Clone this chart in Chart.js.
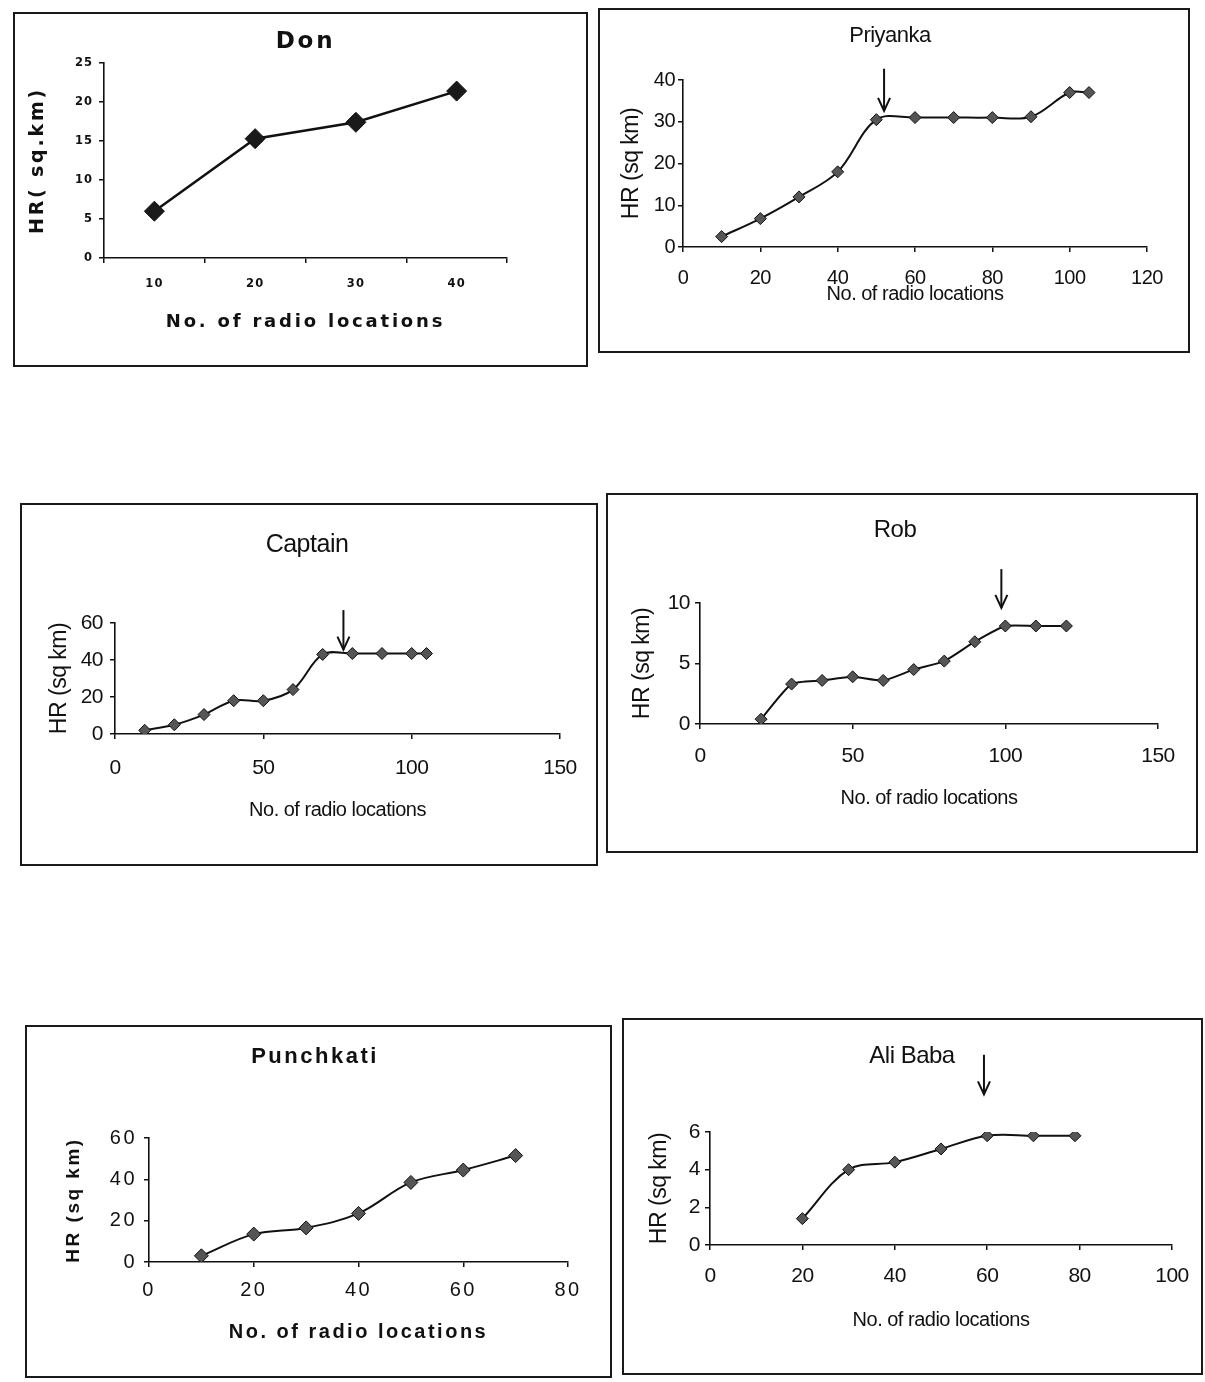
<!DOCTYPE html>
<html><head><meta charset="utf-8">
<script src="https://cdn.jsdelivr.net/npm/chart.js@4/dist/chart.umd.min.js"></script>
<style>
html,body{margin:0;padding:0;background:#fff;width:1205px;height:1382px;overflow:hidden;position:relative}
.box{position:absolute;border:2px solid #1a1a1a;box-sizing:border-box}
canvas{position:absolute}
</style></head><body>
<script>
// ---------- data ----------
const donCategories = ['10','20','30','40'];
const donValues = [6, 15.3, 17.4, 21.4];

const priyankaX = [10,20,30,40,50,60,70,80,90,100,105];
const priyankaY = [2.5,6.8,12,18,30.5,31,31,31,31.2,37,37];
const priyankaArrow = [52, 42.7, 32.6];

const captainX = [10,20,30,40,50,60,70,80,90,100,105];
const captainY = [2,5,10.5,18,18,24,43,43.5,43.5,43.5,43.5];
const captainArrow = [77, 67, 45.6];

const robX = [20,30,40,50,60,70,80,90,100,110,120];
const robY = [0.4,3.3,3.6,3.9,3.6,4.5,5.2,6.8,8.1,8.1,8.1];
const robArrow = [98.7, 12.8, 9.6];

const punchkatiX = [10,20,30,40,50,60,70];
const punchkatiY = [3,13.5,16.5,23.5,38.5,44.5,51.5];

const aliBabaX = [20,30,40,50,60,70,79];
const aliBabaY = [1.4,4.0,4.4,5.1,5.8,5.8,5.8];
const aliBabaArrow = [59.3, 10.1, 8.0];

const xTitle = 'No. of radio locations';

Chart.defaults.color = '#111';

function pairs(xs, ys){ return xs.map((x,i)=>({x:x, y:ys[i]})); }

function panel(o){
  const [bx0,by0,bx1,by1] = o.box;
  const d = document.createElement('div');
  d.className = 'box';
  Object.assign(d.style,{left:bx0+'px',top:by0+'px',width:(bx1-bx0)+'px',height:(by1-by0)+'px'});
  document.body.appendChild(d);

  const [L,T,R,B] = o.area;
  const [tcx,tcy] = o.title;
  let cx0, W, padL, padR, wY;
  const full = o.titleFull !== false;
  if (full){
    const Hw = Math.ceil(Math.max(tcx-bx0+6, bx1-tcx+6, R+40-tcx));
    cx0 = tcx-Hw; W = 2*Hw;
    padR = cx0+W-R; padL = padR;
    wY = L+R-2*tcx;
  } else {
    cx0 = bx0-6; const cx1 = Math.max(bx1+6, R+40);
    W = cx1-cx0;
    wY = o.wY;
    padL = L-wY-cx0; padR = cx1-R;
  }
  const Hh = by1-by0;
  const c = document.createElement('canvas');
  c.width = W; c.height = Hh;
  Object.assign(c.style,{left:cx0+'px',top:by0+'px',width:W+'px',height:Hh+'px'});
  document.body.appendChild(c);

  // letter spacing chosen from the current font size (small tick text vs. titles)
  const ctx2d = c.getContext('2d');
  const origFill = ctx2d.fillText;
  ctx2d.fillText = function(t, x, y, mw){
    const m = /([\d.]+)px/.exec(this.font);
    const size = m ? parseFloat(m[1]) : 12;
    this.letterSpacing = (size < 14 ? o.smallSpacing : o.letterSpacing) + 'px';
    return mw === undefined ? origFill.call(this, t, x, y) : origFill.call(this, t, x, y, mw);
  };

  const ts = o.titleSize, tlh = ts*1.2;
  const pT = tcy-by0-ts*0.6;
  const pB = (T-by0)-pT-tlh;
  const hX = by1-B;
  const tl = 5;
  const xpad = o.xTickY-B-tl-o.tickSize*0.6;
  const ypad = L-o.yTickRight-tl;
  const xTitlePadB = by1-o.xTitleY-o.xTitleSize*0.6;
  const yTitlePadT = o.yTitleX-(L-wY)-o.yTitleSize*0.6;
  const fam = o.family;

  const plugins = [];
  if (o.arrow){
    plugins.push({
      id:'arrow',
      afterDatasetsDraw(ch){
        const ctx = ch.ctx;
        const x = ch.scales.x.getPixelForValue(o.arrow[0]);
        const y1 = ch.scales.y.getPixelForValue(o.arrow[1]);
        const y2 = ch.scales.y.getPixelForValue(o.arrow[2]);
        ctx.save();
        ctx.strokeStyle = '#111'; ctx.lineWidth = 2;
        ctx.beginPath(); ctx.moveTo(x,y1); ctx.lineTo(x,y2); ctx.stroke();
        ctx.beginPath(); ctx.moveTo(x-6,y2-13); ctx.lineTo(x,y2); ctx.lineTo(x+6,y2-13); ctx.stroke();
        ctx.restore();
      }
    });
  }

  const tickFont = {family:fam, size:o.tickSize, weight:o.tickWeight};
  const gridOpt = {display:true, drawOnChartArea:false, drawTicks:true, tickLength:tl, color:'#111', lineWidth:1.5};
  const borderOpt = {display:true, color:'#111', width:1.6};

  let xScale;
  if (o.categories){
    xScale = {type:'category', labels:o.categories, offset:true,
      grid:Object.assign({offset:true},gridOpt), border:borderOpt,
      ticks:{font:tickFont, padding:xpad, color:'#111', maxRotation:0}};
  } else {
    xScale = {type:'linear', min:0, max:o.xMax,
      grid:gridOpt, border:borderOpt,
      ticks:{stepSize:o.xStep, font:tickFont, padding:xpad, color:'#111', maxRotation:0}};
  }
  xScale.position = 'bottom';
  xScale.title = {display:true, text:xTitle, color:'#111',
    font:{family:fam, size:o.xTitleSize, weight:o.xTitleWeight},
    padding:{top:0,bottom:xTitlePadB}};
  xScale.afterFit = s => { s.height = hX; s.paddingLeft = 0; s.paddingRight = 0; };

  const yScale = {type:'linear', position:'left', min:0, max:o.yMax,
    grid:gridOpt, border:borderOpt,
    ticks:{stepSize:o.yStep, font:tickFont, padding:ypad, color:'#111'},
    title:{display:true, text:o.yTitle, color:'#111',
      font:{family:fam, size:o.yTitleSize, weight:o.yTitleWeight},
      padding:{top:yTitlePadT,bottom:0}},
    afterFit: s => { s.width = wY; s.paddingTop = 0; s.paddingBottom = 0; }
  };

  new Chart(c, {
    type:'line',
    data:{
      labels: o.categories || undefined,
      datasets:[{
        data: o.data,
        borderColor:'#111', borderWidth:o.lineWidth,
        tension:o.tension,
        pointStyle:'rectRot', pointRadius:o.pointRadius,
        pointBackgroundColor:o.pointFill, pointBorderColor:'#111', pointBorderWidth:1,
        fill:false
      }]
    },
    options:{
      responsive:false, animation:false, devicePixelRatio:1,
      layout:{padding:{left:padL, right:padR, top:0, bottom:0}},
      plugins:{
        legend:{display:false}, tooltip:{enabled:false},
        title:{display:true, text:o.name, color:'#111', fullSize:full,
          font:{family:fam, size:ts, weight:o.titleWeight, lineHeight:1.2},
          padding:{top:pT,bottom:pB}}
      },
      scales:{x:xScale, y:yScale}
    },
    plugins: plugins
  });
}

const arial = '"Liberation Sans", Arial, sans-serif';

panel({name:'Don', box:[13,12,588,367], area:[104,63,507,258], title:[300,42],
  titleFull:false, wY:80,
  family:'"DejaVu Sans", Verdana, sans-serif', letterSpacing:2.8, smallSpacing:1,
  titleSize:23, titleWeight:'bold', tickSize:11.5, tickWeight:'bold',
  xTickY:284, yTickRight:93, xTitleY:322, xTitleSize:18, xTitleWeight:'bold',
  yTitle:'HR( sq.km)', yTitleX:38, yTitleSize:19, yTitleWeight:'bold',
  categories:donCategories, data:donValues, yMax:25, yStep:5,
  lineWidth:2.5, tension:0, pointRadius:10, pointFill:'#1a1a1a'});

panel({name:'Priyanka', box:[598,8,1190,353], area:[683,80,1147,247], title:[890,36],
  family:arial, letterSpacing:-0.5, smallSpacing:0,
  titleSize:22, titleWeight:'normal', tickSize:20, tickWeight:'normal',
  xTickY:278, yTickRight:675, xTitleY:294, xTitleSize:20, xTitleWeight:'normal',
  yTitle:'HR (sq km)', yTitleX:632, yTitleSize:23, yTitleWeight:'normal',
  data:pairs(priyankaX,priyankaY), xMax:120, xStep:20, yMax:40, yStep:10,
  arrow:priyankaArrow, lineWidth:2, tension:0.35, pointRadius:6, pointFill:'#555'});

panel({name:'Captain', box:[20,503,598,866], area:[115,623,560,734], title:[307,545],
  family:arial, letterSpacing:-0.5, smallSpacing:0,
  titleSize:25, titleWeight:'normal', tickSize:21, tickWeight:'normal',
  xTickY:768, yTickRight:103, xTitleY:810, xTitleSize:20, xTitleWeight:'normal',
  yTitle:'HR (sq km)', yTitleX:60, yTitleSize:23, yTitleWeight:'normal',
  data:pairs(captainX,captainY), xMax:150, xStep:50, yMax:60, yStep:20,
  arrow:captainArrow, lineWidth:2, tension:0.35, pointRadius:6, pointFill:'#555'});

panel({name:'Rob', box:[606,493,1198,853], area:[700,603,1158,724], title:[895,530],
  family:arial, letterSpacing:-0.5, smallSpacing:0,
  titleSize:24, titleWeight:'normal', tickSize:21, tickWeight:'normal',
  xTickY:756, yTickRight:690, xTitleY:798, xTitleSize:20, xTitleWeight:'normal',
  yTitle:'HR (sq km)', yTitleX:643, yTitleSize:23, yTitleWeight:'normal',
  data:pairs(robX,robY), xMax:150, xStep:50, yMax:10, yStep:5,
  arrow:robArrow, lineWidth:2, tension:0.2, pointRadius:6, pointFill:'#555'});

panel({name:'Punchkati', box:[25,1025,612,1378], area:[149,1138,568,1262], title:[315,1057],
  family:arial, letterSpacing:2.5, smallSpacing:2.5,
  titleSize:22, titleWeight:'bold', tickSize:20, tickWeight:'normal',
  xTickY:1290, yTickRight:137, xTitleY:1332, xTitleSize:20, xTitleWeight:'bold',
  yTitle:'HR (sq km)', yTitleX:74, yTitleSize:19, yTitleWeight:'bold',
  data:pairs(punchkatiX,punchkatiY), xMax:80, xStep:20, yMax:60, yStep:20,
  lineWidth:2, tension:0.35, pointRadius:7, pointFill:'#555'});

panel({name:'Ali Baba', box:[622,1018,1203,1375], area:[710,1132,1172,1245], title:[912,1056],
  family:arial, letterSpacing:-0.5, smallSpacing:0,
  titleSize:24, titleWeight:'normal', tickSize:21, tickWeight:'normal',
  xTickY:1276, yTickRight:700, xTitleY:1320, xTitleSize:20, xTitleWeight:'normal',
  yTitle:'HR (sq km)', yTitleX:660, yTitleSize:23, yTitleWeight:'normal',
  data:pairs(aliBabaX,aliBabaY), xMax:100, xStep:20, yMax:6, yStep:2,
  arrow:aliBabaArrow, lineWidth:2, tension:0.35, pointRadius:6, pointFill:'#555'});
</script>
</body></html>
